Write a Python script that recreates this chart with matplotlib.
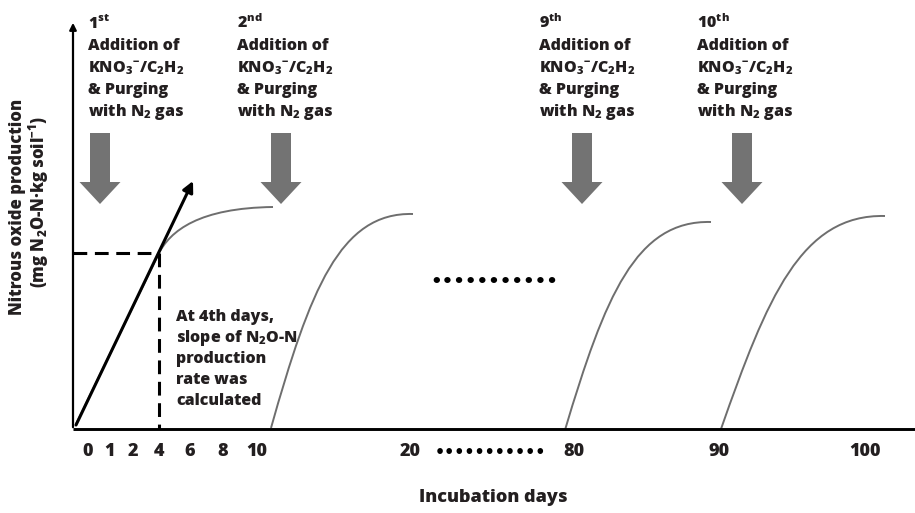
import matplotlib
matplotlib.use("Agg")
import matplotlib.pyplot as plt
import matplotlib.patches as patches
from matplotlib.path import Path

# lettertype: extra vet, zoals in de figuur
plt.rcParams['font.family'] = ['Open Sans', 'DejaVu Sans']
plt.rcParams['font.weight'] = 'heavy'
plt.rcParams['mathtext.fontset'] = 'custom'
plt.rcParams['mathtext.rm'] = 'Open Sans:heavy'
plt.rcParams['mathtext.it'] = 'Open Sans:heavy'
plt.rcParams['mathtext.bf'] = 'Open Sans:heavy'

#-----------------------------------------------------------------------------
# gegevens (schets-coordinaten: x = positie op de as, y = hoogte, 0 bovenaan)

day_labels = ['0', '1', '2', '4', '6', '8', '10', '20', '80', '90', '100']
day_pos = [88, 110, 133, 159, 190, 223, 257, 410, 574, 719, 865]

curve1 = [(76, 424), (158, 255), (170, 230), (200, 208), (273, 207)]
curve2 = [(271, 428), (310, 290), (340, 212), (413, 214)]
curve3 = [(565, 430), (605, 296), (636, 220), (711, 222)]
curve4 = [(721, 429), (767, 298), (801, 214), (885, 216)]

# toevoegingen van KNO3/C2H2
addition_rank = ['1$^{st}$', '2$^{nd}$', '9$^{th}$', '10$^{th}$']
addition_text_x = [88, 237, 539, 697]
addition_arrow_x = [100, 281, 582, 742]
addition_lines = ['Addition of', 'KNO$_3$$^{-}$/C$_2$H$_2$', '& Purging', 'with N$_2$ gas']

note_lines = ['At 4th days,', 'slope of N$_2$O-N', 'production', 'rate was', 'calculated']

slope_start = (76, 425)
slope_end = (193, 181)
day4 = (159, 253)

#-----------------------------------------------------------------------------

f = plt.figure(figsize=(9.15, 5.13), dpi=100)
ax = f.add_axes([0, 0, 1, 1])
ax.set_xlim(0, 915)
ax.set_ylim(513, 0)
ax.axis('off')

txt = '#231f20'
grey = '#6e6e6e'

# assen
ax.plot([73, 915], [429, 429], color='black', lw=2.1, solid_capstyle='butt')
ax.annotate('', xy=(73, 20), xytext=(73, 430),
            arrowprops=dict(arrowstyle='-|>', lw=1.6, color='black', mutation_scale=10))

# curves
c1 = Path(curve1, [Path.MOVETO, Path.LINETO, Path.CURVE4, Path.CURVE4, Path.CURVE4])
ax.add_patch(patches.PathPatch(c1, fill=False, edgecolor=grey, lw=1.4))
for c in [curve2, curve3, curve4]:
    p = Path(c, [Path.MOVETO, Path.CURVE4, Path.CURVE4, Path.CURVE4])
    ax.add_patch(patches.PathPatch(p, fill=False, edgecolor=grey, lw=1.4))

# helling op dag 4
ax.annotate('', xy=slope_end, xytext=slope_start,
            arrowprops=dict(arrowstyle='-|>', lw=2.2, color='black', mutation_scale=16,
                            shrinkA=0, shrinkB=0))
ax.plot([73, day4[0]], [day4[1], day4[1]], color='black', lw=2.2, ls=(0, (4.5, 2.5)))
ax.plot([day4[0], day4[0]], [day4[1], 429], color='black', lw=2.2, ls=(0, (4.5, 2.5)))

# grijze pijlen en teksten
for rank, tx, axx in zip(addition_rank, addition_text_x, addition_arrow_x):
    ax.add_patch(patches.FancyArrow(axx, 133, 0, 71, width=20, head_width=41,
                                    head_length=22, length_includes_head=True,
                                    color='#737373', lw=0))
    ax.text(tx, 28, rank, fontsize=11.5, color=txt, ha='left', va='baseline')
    for i, line in enumerate(addition_lines):
        ax.text(tx, 50 + i * 22, line, fontsize=11.5, color=txt, ha='left', va='baseline')

for i, line in enumerate(note_lines):
    ax.text(176, 321 + i * 21, line, fontsize=11.5, color=txt, ha='left', va='baseline')

# puntjes
ax.text(494, 282, '\u2022' * 11, fontsize=13, family='DejaVu Sans', color='black',
        ha='center', va='center')
ax.text(490, 452, '\u2022' * 11, fontsize=11.5, family='DejaVu Sans', color='black',
        ha='center', va='center')

# as-labels
for lab, x in zip(day_labels, day_pos):
    ax.text(x, 452, lab, fontsize=13, color=txt, ha='center', va='center')
ax.text(493, 497, 'Incubation days', fontsize=13, color=txt, ha='center', va='center')
ax.text(18, 207, 'Nitrous oxide production', fontsize=12, color=txt, rotation=90,
        ha='center', va='center')
ax.text(39, 202, '(mg N$_2$O-N\u00b7kg soil$^{-1}$)', fontsize=12, color=txt, rotation=90,
        ha='center', va='center')

f.savefig('out.png', dpi=100)
